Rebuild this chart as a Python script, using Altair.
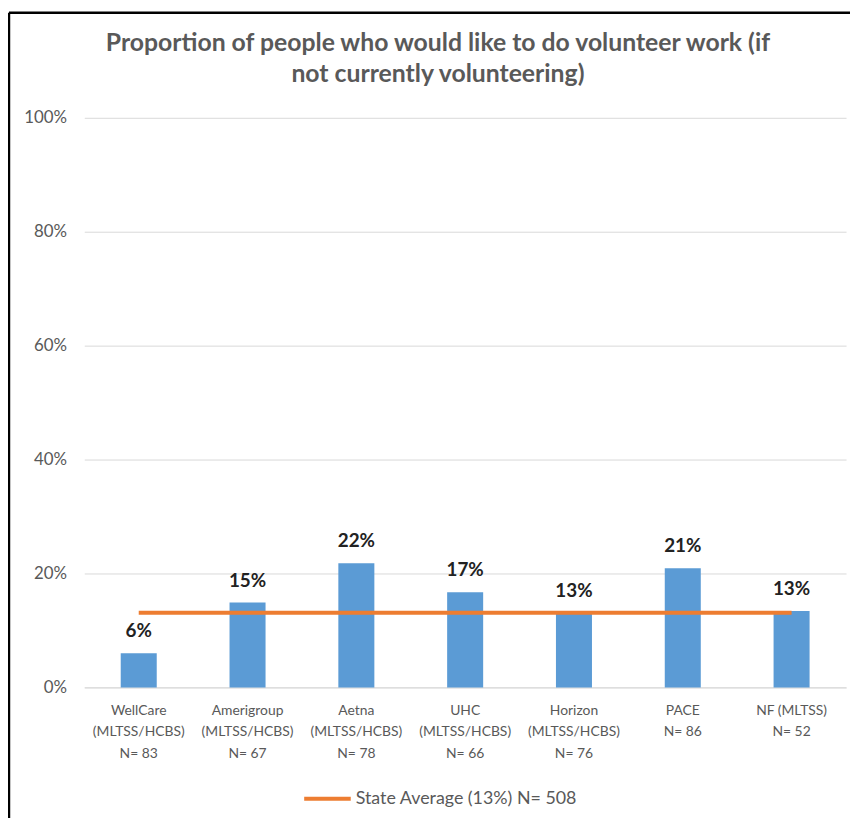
import altair as alt
import pandas as pd

plans = ["WellCare", "Amerigroup", "Aetna", "UHC", "Horizon", "PACE", "NF (MLTSS)"]
programs = ["(MLTSS/HCBS)", "(MLTSS/HCBS)", "(MLTSS/HCBS)", "(MLTSS/HCBS)", "(MLTSS/HCBS)", "", ""]
sample_n = [83, 67, 78, 66, 76, 86, 52]
values = [0.060, 0.149, 0.218, 0.167, 0.130, 0.209, 0.134]
value_labels = ["6%", "15%", "22%", "17%", "13%", "21%", "13%"]
state_avg = 0.131
state_label = "State Average (13%) N= 508"
title_lines = ["Proportion of people who would like to do volunteer work (if",
               "not currently volunteering)"]

cats = ["|".join([p for p in (a, b, f"N= {n}") if p]) for a, b, n in zip(plans, programs, sample_n)]
df = pd.DataFrame({"cat": cats, "value": values, "label": value_labels})
df_line = pd.DataFrame({"cat": cats, "avg": [state_avg] * len(cats), "series": [state_label] * len(cats)})
frame = pd.DataFrame({"k": [0]})

GRAY = "#595959"

x = alt.X("cat:N", sort=cats, title=None,
          scale=alt.Scale(paddingInner=0.669, paddingOuter=0.335),
          axis=alt.Axis(labelExpr="split(datum.label, '|')", labelAngle=0,
                        labelFont="Lato", labelFontSize=14,
                        labelColor=GRAY, labelLineHeight=22, labelPadding=16,
                        ticks=False, domainColor="#D9D9D9", labelLimit=200))
y = alt.Y("value:Q", title=None,
          scale=alt.Scale(domain=[0, 1]),
          axis=alt.Axis(values=[0, 0.2, 0.4, 0.6, 0.8, 1.0], format=".0%",
                        labelFont="Lato", labelFontSize=17, labelColor=GRAY,
                        labelPadding=18, ticks=False, domain=False,
                        gridColor="#D9D9D9", gridWidth=1))

bars = alt.Chart(df).mark_bar(color="#5B9BD5").encode(x=x, y=y)
texts = alt.Chart(df).mark_text(font="Lato", fontSize=19, fontWeight="bold",
                                color="#222222", baseline="alphabetic", dy=-16).encode(
    x=alt.X("cat:N", sort=cats), y="value:Q", text="label:N")
line = alt.Chart(df_line).mark_line(strokeWidth=4).encode(
    x=alt.X("cat:N", sort=cats),
    y=alt.Y("avg:Q"),
    color=alt.Color("series:N",
                    scale=alt.Scale(domain=[state_label], range=["#ED7D31"]),
                    legend=alt.Legend(title=None, orient="none", legendX=220, legendY=662,
                                      symbolType="stroke", symbolSize=2209,
                                      symbolStrokeWidth=4, labelFont="Lato",
                                      labelFontSize=18, labelColor=GRAY,
                                      labelOffset=3, padding=0, labelLimit=400)))

title = alt.Chart(frame).mark_text(font="Lato", fontSize=25, fontWeight="bold",
                                   color=GRAY, lineHeight=31, baseline="middle",
                                   align="center").encode(
    x=alt.value(357), y=alt.value(-75), text=alt.value(title_lines))

left_rule = alt.Chart(frame).mark_rule(color="black", strokeWidth=2.5).encode(
    x=alt.value(-76), y=alt.value(-106), y2=alt.value(712))
top_rule = alt.Chart(frame).mark_rule(color="black", strokeWidth=2.5).encode(
    x=alt.value(-76), x2=alt.value(773), y=alt.value(-106))

chart = alt.layer(bars, line, texts, title, left_rule, top_rule).properties(
    width=769, height=575,
    autosize=alt.AutoSizeParams(type="none"),
    padding={"left": 77, "top": 107, "right": 4, "bottom": 128},
).configure_view(stroke=None)

chart.save("out.html", embed_options={"renderer": "svg", "actions": False})
